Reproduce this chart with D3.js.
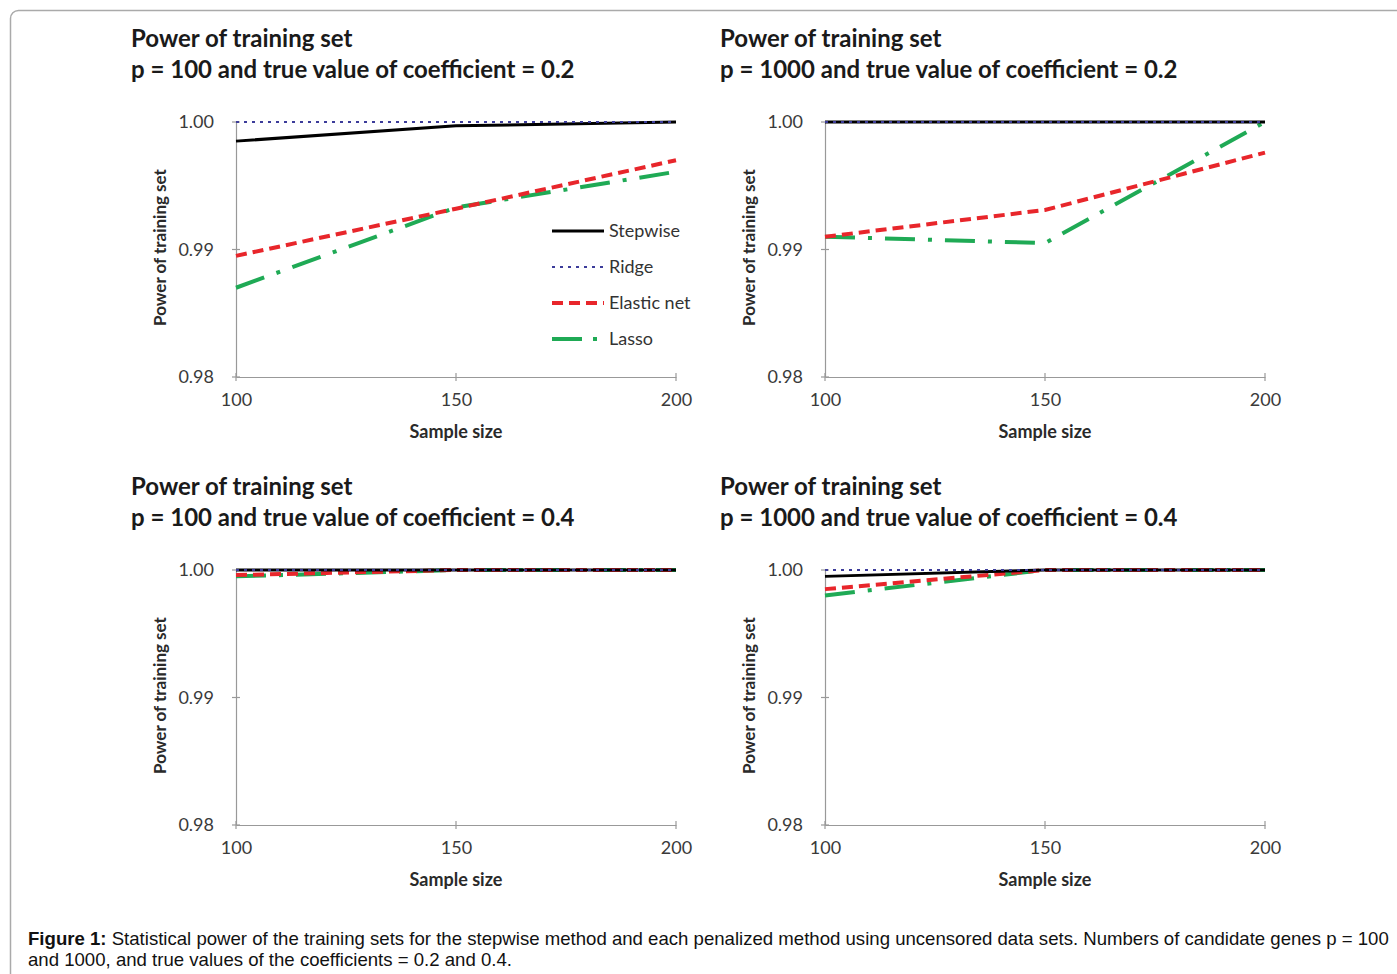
<!DOCTYPE html>
<html><head><meta charset="utf-8">
<script src="https://cdn.jsdelivr.net/npm/d3@7"></script>
<style>body{margin:0;background:#fff;}svg{display:block;}</style>
</head><body>
<svg id="chart" width="1397" height="974"></svg>
<script>
const sampleSizes = [100, 150, 200];
const seriesNames = ["Stepwise", "Ridge", "Elastic net", "Lasso"];
const yTicks = [0.98, 0.99, 1.00];
const xTicks = [100, 150, 200];
const panelTitles = [
  "p = 100 and true value of coefficient = 0.2",
  "p = 1000 and true value of coefficient = 0.2",
  "p = 100 and true value of coefficient = 0.4",
  "p = 1000 and true value of coefficient = 0.4"
];
// values per panel: [Stepwise, Ridge, Elastic net, Lasso]
const p100c02 = [[0.9985, 0.9997, 1.0], [1.0, 1.0, 1.0], [0.9895, 0.9932, 0.9970], [0.9870, 0.9933, 0.9961]];
const p1000c02 = [[1.0, 1.0, 1.0], [1.0, 1.0, 1.0], [0.9910, 0.9931, 0.9976], [0.9910, 0.9905, 1.0]];
const p100c04 = [[1.0, 1.0, 1.0], [1.0, 1.0, 1.0], [0.9996, 1.0, 1.0], [0.9995, 1.0, 1.0]];
const p1000c04 = [[0.9995, 1.0, 1.0], [1.0, 1.0, 1.0], [0.9985, 1.0, 1.0], [0.9980, 1.0, 1.0]];
const panelData = [p100c02, p1000c02, p100c04, p1000c04];

const styles = [
  {color: "#000000", width: 3, dash: null},
  {color: "#3c3c9a", width: 2, dash: "3,5"},
  {color: "#e8262b", width: 4, dash: "11,6"},
  {color: "#1faa55", width: 4, dash: "30,13,4,13"}
];
const FONT = "Lato, 'Open Sans', sans-serif";

const svg = d3.select("#chart");
svg.append("rect").attr("x", 10.5).attr("y", 10.5).attr("width", 1450).attr("height", 1000)
  .attr("rx", 8).attr("fill", "none").attr("stroke", "#aaaaaa").attr("stroke-width", 1.5);

const origins = [[236, 122], [825, 122], [236, 570], [825, 570]];
const W = 440, H = 255;

panelData.forEach((data, pi) => {
  const [ox, oy] = origins[pi];
  const g = svg.append("g");
  const x = d3.scaleLinear().domain([100, 200]).range([ox, ox + W]);
  const y = d3.scaleLinear().domain([0.98, 1.0]).range([oy + H, oy]);

  g.append("text").attr("x", ox - 105).attr("y", oy - 75)
    .attr("font-family", FONT).attr("font-weight", "bold")
    .attr("font-size", 24).attr("fill", "#1a1a1a").text("Power of training set");
  g.append("text").attr("x", ox - 105).attr("y", oy - 44)
    .attr("font-family", FONT).attr("font-weight", "bold")
    .attr("font-size", 24).attr("fill", "#1a1a1a").text(panelTitles[pi]);

  const xAxis = d3.axisBottom(x).tickValues(xTicks).tickSize(0).tickPadding(16).tickFormat(d3.format("d"));
  const yAxis = d3.axisLeft(y).tickValues(yTicks).tickSize(0).tickPadding(22).tickFormat(d3.format(".2f"));
  const gx = g.append("g").attr("transform", `translate(0,${oy + H})`).call(xAxis);
  const gy = g.append("g").attr("transform", `translate(${ox},0)`).call(yAxis);
  [gx, gy].forEach(a => {
    a.select(".domain").attr("stroke", "#999").attr("stroke-width", 1.2);
    a.selectAll("text").attr("font-family", FONT).attr("font-size", 18).attr("fill", "#3a3a3a");
  });
  xTicks.forEach(t => g.append("line").attr("x1", x(t)).attr("x2", x(t)).attr("y1", oy + H - 4).attr("y2", oy + H + 4).attr("stroke", "#999").attr("stroke-width", 1.2));
  yTicks.forEach(t => g.append("line").attr("x1", ox - 4).attr("x2", ox + 4).attr("y1", y(t)).attr("y2", y(t)).attr("stroke", "#999").attr("stroke-width", 1.2));

  g.append("text").attr("x", ox + W / 2).attr("y", oy + H + 61).attr("text-anchor", "middle")
    .attr("font-family", FONT).attr("font-weight", "bold")
    .attr("font-size", 18).attr("fill", "#2a2a2a").text("Sample size");
  g.append("text").attr("transform", `translate(${ox - 70},${oy + H / 2 - 2}) rotate(-90)`).attr("text-anchor", "middle")
    .attr("font-family", FONT).attr("font-weight", "bold")
    .attr("font-size", 17).attr("fill", "#2a2a2a").text("Power of training set");

  const line = d3.line().x((d, i) => x(sampleSizes[i])).y(d => y(d));
  [3, 2, 0, 1].forEach(si => {
    const s = styles[si];
    g.append("path").datum(data[si]).attr("d", line).attr("fill", "none")
      .attr("stroke", s.color).attr("stroke-width", s.width)
      .attr("stroke-dasharray", s.dash);
  });
});

const lg = svg.append("g");
seriesNames.forEach((n, i) => {
  const yy = 231 + i * 36;
  const s = styles[i];
  lg.append("line").attr("x1", 552).attr("x2", 604).attr("y1", yy).attr("y2", yy)
    .attr("stroke", s.color).attr("stroke-width", s.width).attr("stroke-dasharray", i === 3 ? "30,11,4,12" : s.dash);
  lg.append("text").attr("x", 609).attr("y", yy + 6).attr("font-family", FONT)
    .attr("font-size", 18).attr("fill", "#333").text(n);
});

const cap = svg.append("text").attr("font-family", "'Liberation Sans', Arial, sans-serif").attr("font-size", 18.6).attr("fill", "#111");
const l1 = cap.append("tspan").attr("x", 28).attr("y", 945);
l1.append("tspan").attr("font-weight", "bold").text("Figure 1:");
l1.append("tspan").text(" Statistical power of the training sets for the stepwise method and each penalized method using uncensored data sets. Numbers of candidate genes p = 100");
cap.append("tspan").attr("x", 28).attr("y", 966).text("and 1000, and true values of the coefficients = 0.2 and 0.4.");
</script>
</body></html>
